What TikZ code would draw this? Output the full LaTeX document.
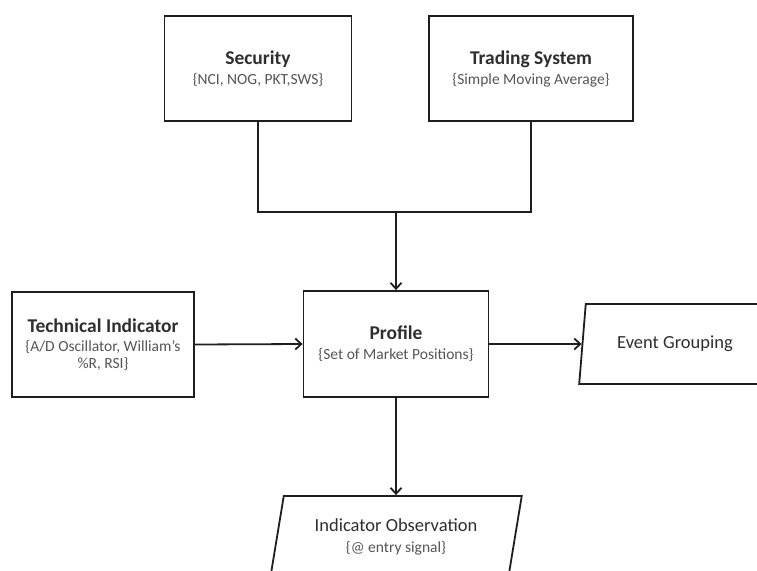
\documentclass[tikz,border=0pt]{standalone}
\usepackage{fontspec}
\setmainfont{Carlito}
\usetikzlibrary{shapes.geometric,arrows.meta}

\definecolor{headgray}{HTML}{2E2E2E}
\definecolor{notegray}{HTML}{555555}
\definecolor{linegray}{HTML}{1E1E1E}

\newcommand{\headfont}{\color{headgray}\bfseries\fontsize{19.5}{17}\selectfont}
\newcommand{\notefont}{\color{notegray}\mdseries\fontsize{15.5}{17}\selectfont}

\begin{document}
\begin{tikzpicture}[x=1pt, y=-1pt, line width=1.8pt, draw=linegray,
    box/.style={draw, rectangle, minimum height=105, inner sep=0, align=center,
        font=\fontsize{15.5}{17}\selectfont},
    iobox/.style={draw, trapezium, trapezium left angle=75, trapezium right angle=105,
        trapezium stretches=true, inner sep=0, align=center,
        font=\fontsize{15.5}{17}\selectfont},
    flow/.style={-{Straight Barb[length=6pt, width=11pt]}}]

    % page frame (the reference cuts the two right/bottom shapes)
    \path[use as bounding box, clip] (0,0) rectangle (757,570);

    % Top: inputs
    \node[box, minimum width=187] (sec) at (258, 68.5) {\headfont Security\\[3pt] \notefont \{NCI, NOG, PKT,SWS\}};
    \node[box, minimum width=204] (trade) at (531, 68.5) {\headfont Trading System\\[3pt] \notefont \{Simple Moving Average\}};

    % Middle row
    \node[box, minimum width=182] (tech) at (103, 344.5) {\headfont Technical Indicator\\[2pt] \notefont \{A/D Oscillator, William’s\\ \notefont \%R, RSI\}};
    \node[box, minimum width=185, minimum height=106] (prof) at (396, 344) {\headfont Profile\\[3pt] \notefont \{Set of Market Positions\}};
    \node[iobox, minimum width=192, minimum height=80] (event) at (675, 344) {\color{headgray}\fontsize{18.5}{21}\selectfont Event Grouping};

    % Bottom: output
    \node[iobox, minimum width=252, minimum height=82] (obs) at (396, 537) {\color{headgray}\fontsize{18.5}{17}\selectfont Indicator Observation\\[4pt] \notefont \{@ entry signal\}};

    % Connectors
    \path (prof.north) ++(0,-78) coordinate (join);
    \draw (sec.south) |- (join) -| (trade.south);
    \draw[flow] (join) -- (prof.north);
    \draw[flow] (tech.east) -- (prof.west);
    \draw[flow] (prof.east) -- (event.left side);
    \draw[flow] (prof.south) -- (obs.north);

\end{tikzpicture}
\end{document}
